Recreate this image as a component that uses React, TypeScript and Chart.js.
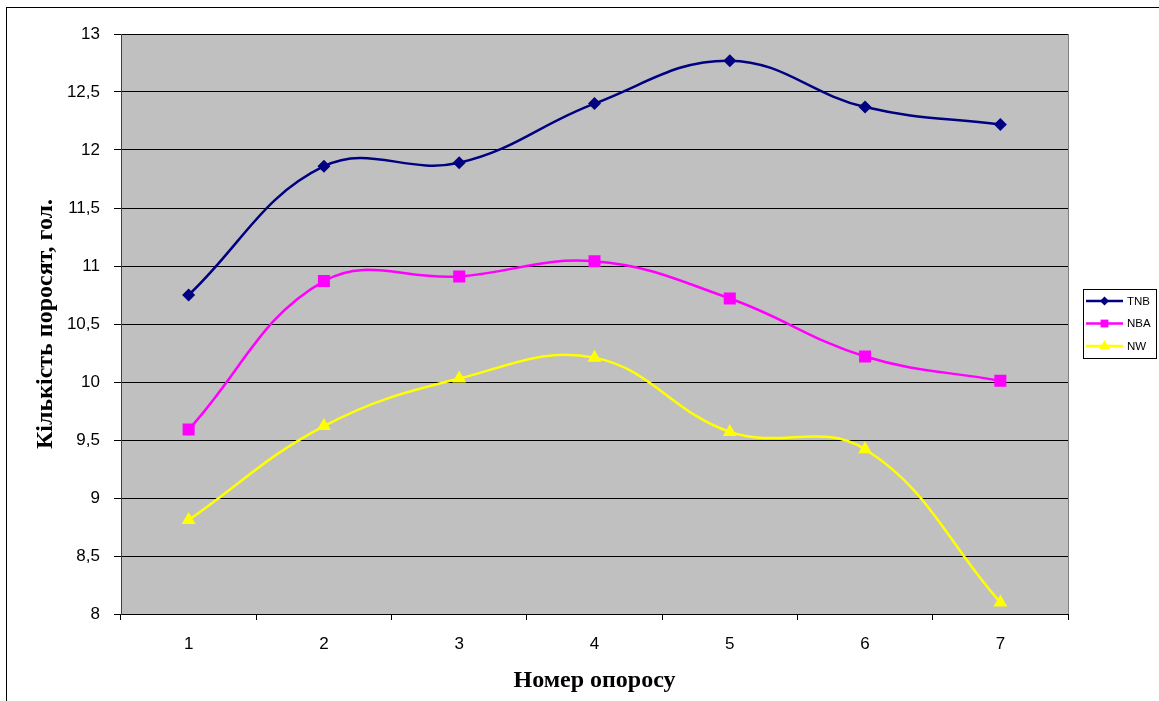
import React, { useEffect, useRef } from 'react';
import { Chart, registerables } from 'chart.js';

Chart.register(...registerables);

const categories = ['1', '2', '3', '4', '5', '6', '7'];
const seriesNames = ['TNB', 'NBA', 'NW'];
const tnbValues = [10.75, 11.86, 11.89, 12.4, 12.77, 12.37, 12.22];
const nbaValues = [9.59, 10.87, 10.91, 11.04, 10.72, 10.22, 10.01];
const nwValues = [8.81, 9.62, 10.03, 10.21, 9.57, 9.42, 8.1];
const yMin = 8;
const yMax = 13;
const yStep = 0.5;
const xTitle = 'Номер опоросу';
const yTitle = 'Кількість поросят, гол.';

const colors = ['#000080', '#FF00FF', '#FFFF00'];
const pointStyles = ['rectRot', 'rect', 'triangle'] as const;
const pointRadii = [6.5, 8.5, 8];
const legendRadii = [4.5, 5.5, 6];

const plotBackground = {
  id: 'plotBackground',
  beforeDraw(chart: any) {
    const { ctx, chartArea } = chart;
    ctx.save();
    ctx.fillStyle = '#C0C0C0';
    ctx.fillRect(chartArea.left, chartArea.top, chartArea.right - chartArea.left, chartArea.bottom - chartArea.top);
    ctx.strokeStyle = '#808080';
    ctx.lineWidth = 1;
    ctx.strokeRect(chartArea.left + 0.5, chartArea.top + 0.5, chartArea.right - chartArea.left, chartArea.bottom - chartArea.top);
    ctx.restore();
  },
};

function drawMarker(ctx: CanvasRenderingContext2D, style: string, x: number, y: number, r: number) {
  ctx.beginPath();
  if (style === 'rectRot') {
    ctx.moveTo(x - r, y);
    ctx.lineTo(x, y - r);
    ctx.lineTo(x + r, y);
    ctx.lineTo(x, y + r);
  } else if (style === 'rect') {
    const s = r * Math.SQRT1_2;
    ctx.rect(x - s, y - s, 2 * s, 2 * s);
  } else {
    const w = r * 0.866;
    ctx.moveTo(x, y - r);
    ctx.lineTo(x + w, y + r * 0.5);
    ctx.lineTo(x - w, y + r * 0.5);
  }
  ctx.closePath();
  ctx.fill();
}

const frameAndLegend = {
  id: 'frameAndLegend',
  afterDraw(chart: any) {
    const { ctx } = chart;
    ctx.save();
    ctx.strokeStyle = '#000000';
    ctx.lineWidth = 1;
    ctx.strokeRect(6.5, 7.5, 1300, 900);

    const bx = 1083.5;
    const by = 289.5;
    const bw = 73;
    const bh = 69;
    ctx.fillStyle = '#FFFFFF';
    ctx.fillRect(bx, by, bw, bh);
    ctx.strokeStyle = '#000000';
    ctx.strokeRect(bx, by, bw, bh);

    const rows = [301, 323.5, 346];
    chart.data.datasets.forEach((ds: any, i: number) => {
      const y = rows[i];
      ctx.strokeStyle = ds.borderColor;
      ctx.lineWidth = 2.5;
      ctx.beginPath();
      ctx.moveTo(1086, y);
      ctx.lineTo(1123, y);
      ctx.stroke();
      ctx.fillStyle = ds.borderColor;
      drawMarker(ctx, pointStyles[i], 1104.5, y, legendRadii[i]);
      ctx.fillStyle = '#000000';
      ctx.font = '11.5px Arial, "Liberation Sans", sans-serif';
      ctx.textAlign = 'left';
      ctx.textBaseline = 'middle';
      ctx.fillText(ds.label, 1127, y + 0.5);
    });
    ctx.restore();
  },
};

export default function App() {
  const canvasRef = useRef<HTMLCanvasElement | null>(null);

  useEffect(() => {
    if (!canvasRef.current) return;
    const seriesValues = [tnbValues, nbaValues, nwValues];
    const chart = new Chart(canvasRef.current, {
      type: 'line',
      data: {
        labels: categories,
        datasets: seriesNames.map((name, i) => ({
          label: name,
          data: seriesValues[i],
          borderColor: colors[i],
          backgroundColor: colors[i],
          pointBackgroundColor: colors[i],
          pointBorderColor: colors[i],
          pointStyle: pointStyles[i],
          pointRadius: pointRadii[i],
          pointBorderWidth: 0,
          borderWidth: 2.5,
          tension: 0.4,
          fill: false,
        })),
      },
      options: {
        responsive: false,
        animation: false,
        devicePixelRatio: 1,
        layout: { padding: { left: 0, top: 34, right: 91, bottom: 0 } },
        plugins: {
          legend: { display: false },
          tooltip: { enabled: false },
        },
        scales: {
          x: {
            type: 'category',
            offset: true,
            grid: {
              offset: true,
              drawOnChartArea: false,
              drawTicks: true,
              tickLength: 6,
              tickColor: '#000000',
            },
            border: { display: true, color: '#000000', width: 1 },
            ticks: {
              color: '#000000',
              padding: 14,
              font: { family: 'Arial, "Liberation Sans", sans-serif', size: 17 },
              maxRotation: 0,
            },
            title: {
              display: true,
              text: xTitle,
              color: '#000000',
              font: { family: '"Times New Roman", "Liberation Serif", serif', size: 24, weight: 'bold' },
              padding: { top: 0, bottom: 6 },
            },
            afterFit: (scale: any) => {
              scale.height = 87;
            },
          },
          y: {
            min: yMin,
            max: yMax,
            grid: {
              color: '#000000',
              lineWidth: 1,
              tickLength: 7,
              tickColor: '#000000',
            },
            border: { display: true, color: '#404040', width: 1 },
            ticks: {
              stepSize: yStep,
              color: '#000000',
              padding: 14,
              font: { family: 'Arial, "Liberation Sans", sans-serif', size: 17 },
              callback: (v: any) => String(v).replace('.', ','),
            },
            title: {
              display: true,
              text: yTitle,
              color: '#000000',
              font: { family: '"Times New Roman", "Liberation Serif", serif', size: 24, weight: 'bold' },
              padding: { top: 31, bottom: 0 },
            },
            afterFit: (scale: any) => {
              scale.width = 121;
            },
          },
        },
      } as any,
      plugins: [plotBackground, frameAndLegend],
    });
    return () => chart.destroy();
  }, []);

  return (
    <div style={{ position: 'absolute', left: 0, top: 0, width: 1159, height: 701, background: '#FFFFFF' }}>
      <canvas ref={canvasRef} width={1159} height={701} style={{ display: 'block' }} />
    </div>
  );
}
